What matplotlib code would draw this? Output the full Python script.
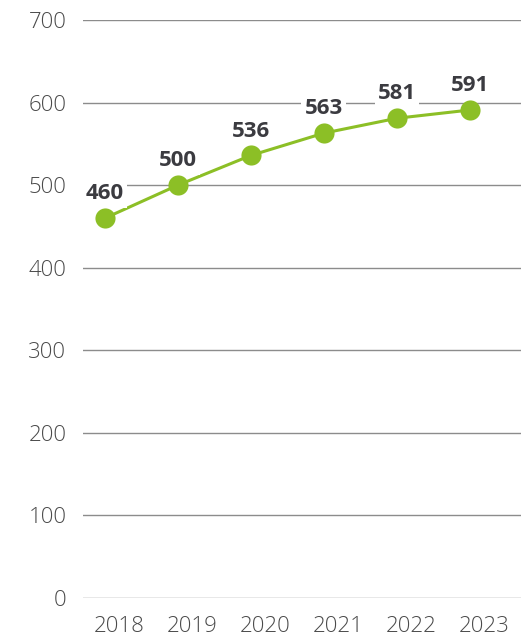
import matplotlib
matplotlib.use("Agg")
import matplotlib.pyplot as plt

years = ["2018", "2019", "2020", "2021", "2022", "2023"]
values = [460, 500, 536, 563, 581, 591]
y_ticks = [0, 100, 200, 300, 400, 500, 600, 700]

plt.rcParams["font.family"] = ["Open Sans", "DejaVu Sans"]

fig = plt.figure(figsize=(5.21, 6.37), dpi=100)
ax = fig.add_axes([83 / 521, 39 / 637, 1 - 83 / 521, 578 / 637])

green = "#8cbf26"
idx = list(range(len(years)))
pts = [i - 0.2 for i in idx]

ax.set_xlim(-0.5, len(years) - 0.5)
ax.set_ylim(0, 700)

for t in y_ticks:
    ax.axhline(t, color="#8c8c8c", lw=1.0, zorder=1)

ax.plot(pts, values, color=green, lw=2.2, marker="o", markersize=14.5,
        markeredgewidth=0, zorder=3, clip_on=False)

for x, v in zip(pts, values):
    ax.annotate(str(v), (x, v), xytext=(0, 17.5), textcoords="offset points",
                ha="center", va="center", fontsize=16, fontweight="bold",
                color="#3b3b40", zorder=4,
                bbox=dict(boxstyle="square,pad=0.15", fc="white", ec="none"))

ax.set_yticks(y_ticks)
ax.set_yticklabels([str(t) for t in y_ticks])
ax.set_xticks(idx)
ax.set_xticklabels(years)
ax.tick_params(axis="both", length=0, labelsize=16, labelcolor="#4a4a4a")
ax.tick_params(axis="y", pad=12)
ax.tick_params(axis="x", pad=13)
for lbl in ax.get_xticklabels() + ax.get_yticklabels():
    lbl.set_fontweight("light")

for s in ax.spines.values():
    s.set_visible(False)

fig.savefig("out.png", dpi=100)
